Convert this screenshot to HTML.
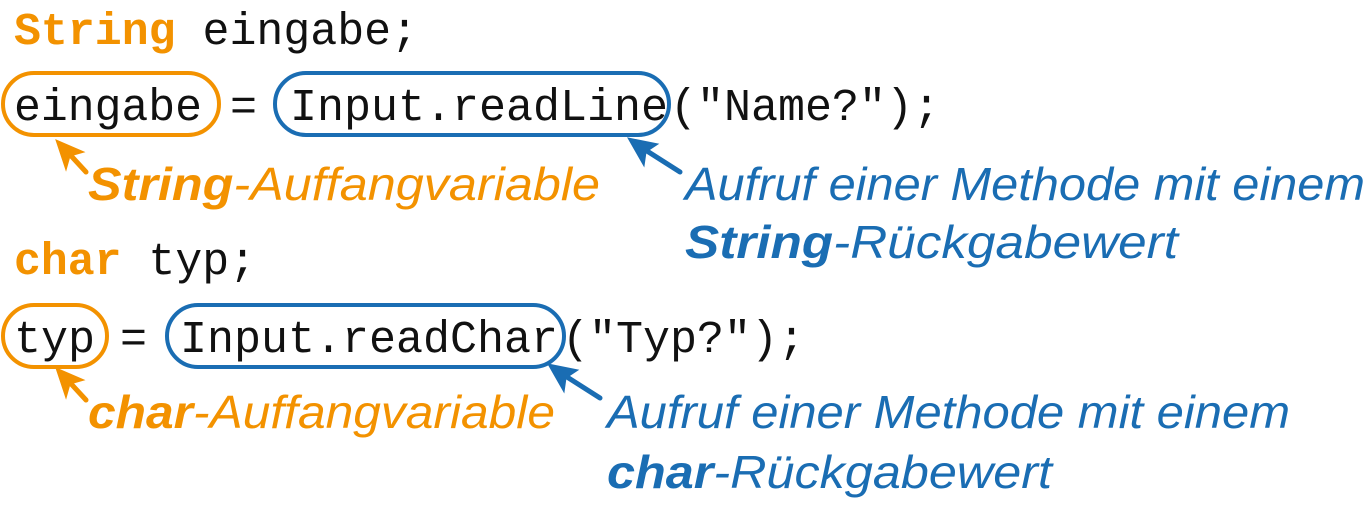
<!DOCTYPE html>
<html><head><meta charset="utf-8"><style>
html,body{margin:0;padding:0;background:#fff;}
svg{display:block}
.c{font-family:"Liberation Mono",monospace;font-size:45px;fill:#111}
.a{font-family:"Liberation Sans",sans-serif;font-style:italic;font-size:46px}
.o{fill:#f39200}.b{fill:#1a6db3}
</style></head><body>
<svg width="1369" height="514" viewBox="0 0 1369 514" xmlns="http://www.w3.org/2000/svg">
<text class="c" x="14" y="44" textLength="404" lengthAdjust="spacingAndGlyphs"><tspan class="o" font-weight="bold">String</tspan> eingabe;</text>
<text class="c" x="14" y="120" textLength="188" lengthAdjust="spacingAndGlyphs">eingabe</text>
<text class="c" x="230" y="120">=</text>
<text class="c" x="290" y="120" textLength="378" lengthAdjust="spacingAndGlyphs">Input.readLine</text>
<text class="c" x="670" y="120" textLength="270" lengthAdjust="spacingAndGlyphs">("Name?");</text>
<rect x="3" y="73" width="216" height="62" rx="31" fill="none" stroke="#f39200" stroke-width="4"/>
<rect x="275" y="73" width="394" height="62" rx="31" fill="none" stroke="#1a6db3" stroke-width="4"/>

<text class="c" x="14" y="274" textLength="242" lengthAdjust="spacingAndGlyphs"><tspan class="o" font-weight="bold">char</tspan> typ;</text>
<text class="c" x="14" y="352" textLength="81" lengthAdjust="spacingAndGlyphs">typ</text>
<text class="c" x="120" y="352">=</text>
<text class="c" x="180" y="352" textLength="378" lengthAdjust="spacingAndGlyphs">Input.readChar</text>
<text class="c" x="562" y="352" textLength="243" lengthAdjust="spacingAndGlyphs">("Typ?");</text>
<rect x="3" y="305" width="104" height="62" rx="31" fill="none" stroke="#f39200" stroke-width="4"/>
<rect x="167" y="305" width="397" height="62" rx="31" fill="none" stroke="#1a6db3" stroke-width="4"/>

<g stroke-width="5" fill="none" stroke-linecap="round">
<path d="M86,172 L62,146" stroke="#f39200"/><path d="M56,140 L84,152 L70,156 L66,170 Z" fill="#f39200" stroke="#f39200" stroke-width="1"/>
<path d="M680,172 L636,144" stroke="#1a6db3"/><path d="M628,138 L658,144 L646,152 L644,166 Z" fill="#1a6db3" stroke="#1a6db3" stroke-width="1"/>
<path d="M86,400 L62,374" stroke="#f39200"/><path d="M56,368 L84,380 L70,384 L66,398 Z" fill="#f39200" stroke="#f39200" stroke-width="1"/>
<path d="M600,398 L556,370" stroke="#1a6db3"/><path d="M548,364 L578,370 L566,378 L564,392 Z" fill="#1a6db3" stroke="#1a6db3" stroke-width="1"/>
</g>

<text class="a o" x="88" y="200" textLength="512" lengthAdjust="spacingAndGlyphs"><tspan font-weight="bold">String</tspan>-Auffangvariable</text>
<text class="a b" x="685" y="200" textLength="680" lengthAdjust="spacingAndGlyphs">Aufruf einer Methode mit einem</text>
<text class="a b" x="685" y="258" textLength="493" lengthAdjust="spacingAndGlyphs"><tspan font-weight="bold">String</tspan>-Rückgabewert</text>
<text class="a o" x="88" y="428" textLength="467" lengthAdjust="spacingAndGlyphs"><tspan font-weight="bold">char</tspan>-Auffangvariable</text>
<text class="a b" x="607" y="428" textLength="683" lengthAdjust="spacingAndGlyphs">Aufruf einer Methode mit einem</text>
<text class="a b" x="607" y="488" textLength="445" lengthAdjust="spacingAndGlyphs"><tspan font-weight="bold">char</tspan>-Rückgabewert</text>
</svg>
</body></html>
